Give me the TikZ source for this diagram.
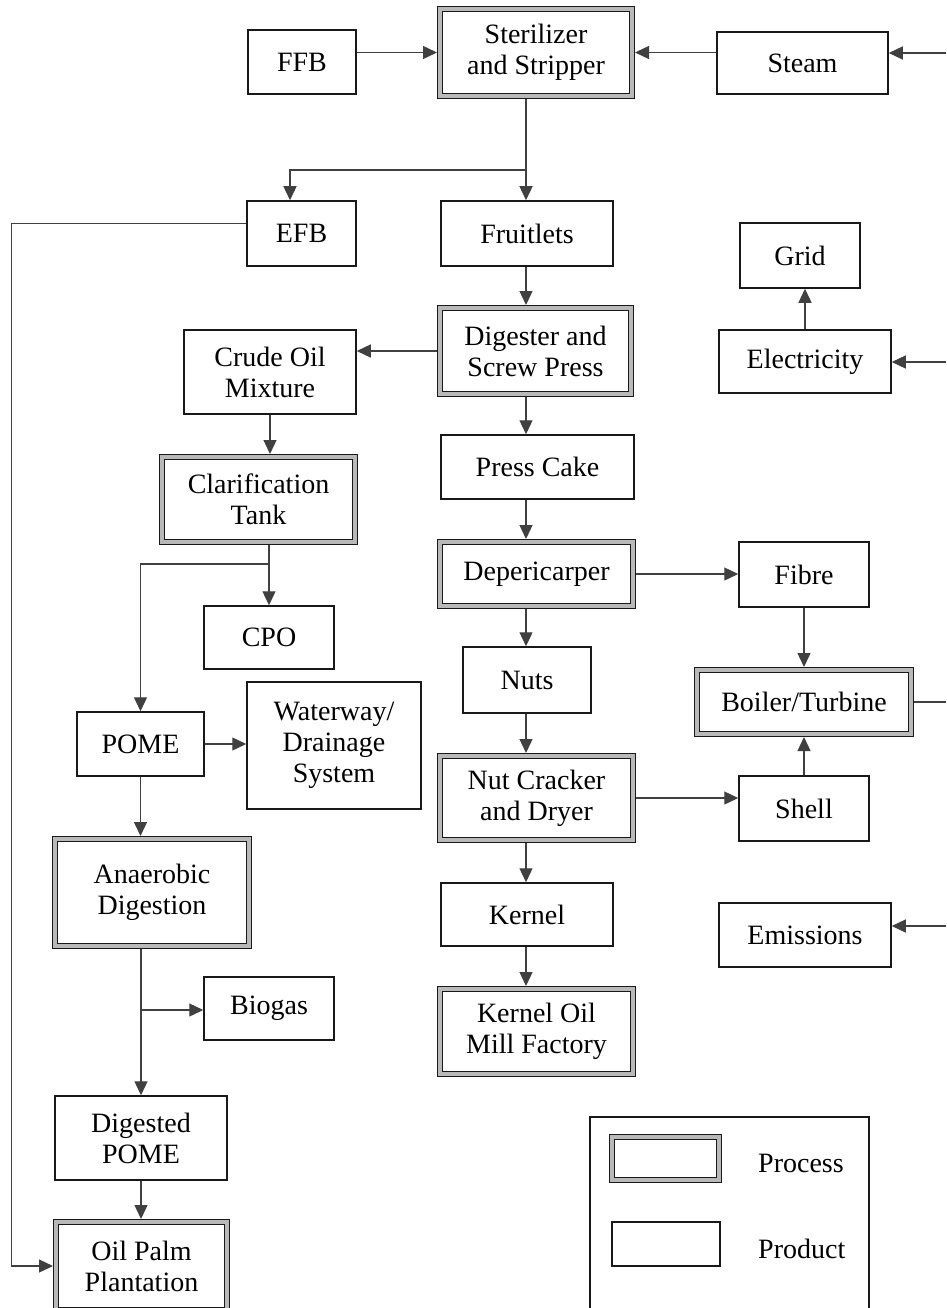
\documentclass[tikz,border=0pt]{standalone}
\usepackage{fontspec}
\setmainfont{Liberation Serif}
\usetikzlibrary{arrows.meta}
\begin{document}
\begin{tikzpicture}[x=1pt,y=-1pt,
  txt/.style={font=\fontsize{28}{31}\selectfont, align=center, inner sep=0pt},
  prod/.style={txt, draw=black!90, line width=1.5pt, rectangle, fill=white},
  proc/.style={txt, draw=black!90, line width=1.4pt, double=gray!55, double distance=3.4pt, fill=white, outer sep=3pt},
  link/.style={draw=black!75, line width=1.3pt},
  arr/.style={link, -{Triangle[length=14pt,width=13pt]}},
]
\clip (0,0) rectangle (946,1308);

% process and product boxes
\node[proc, minimum width=192pt, minimum height=87pt] (ster) at (536,52.5) {Sterilizer\\and Stripper};
\node[prod, minimum width=108pt, minimum height=64pt] (ffb) at (302,62) {FFB};
\node[prod, minimum width=171pt, minimum height=62pt] (steam) at (802.5,63) {Steam};
\node[prod, minimum width=109pt, minimum height=65pt] (efb) at (301.5,233.5) {EFB};
\node[prod, minimum width=172pt, minimum height=65pt] (fruit) at (527,233.5) {Fruitlets};
\node[prod, minimum width=120pt, minimum height=65pt] (grid) at (800,255.5) {Grid};
\node[proc, minimum width=191pt, minimum height=86pt] (dig) at (535.5,351) {Digester and\\Screw Press};
\node[prod, minimum width=172pt, minimum height=63pt] (elec) at (805,361.5) {Electricity};
\node[prod, minimum width=172pt, minimum height=84pt] (crude) at (270,372) {Crude Oil\\Mixture};
\node[prod, minimum width=193pt, minimum height=64pt] (press) at (537.5,467) {Press Cake};
\node[proc, minimum width=193pt, minimum height=85pt] (clar) at (258.5,499.5) {Clarification\\Tank};
\node[proc, minimum width=193pt, minimum height=64pt] (dep) at (536.5,574) {Depericarper};
\node[prod, minimum width=130pt, minimum height=65pt] (fibre) at (804,574.5) {Fibre};
\node[prod, minimum width=130pt, minimum height=63pt] (cpo) at (269,637.5) {CPO};
\node[prod, minimum width=128pt, minimum height=66pt] (nuts) at (527,680) {Nuts};
\node[proc, minimum width=214pt, minimum height=64pt] (boiler) at (804,702) {Boiler/Turbine};
\node[prod, minimum width=127pt, minimum height=64pt] (pome) at (140.5,744) {POME};
\node[prod, minimum width=174pt, minimum height=127pt] (water) at (334,745.5) {Waterway/\\Drainage\\System};
\node[proc, minimum width=193pt, minimum height=84pt] (crack) at (536.5,798) {Nut Cracker\\and Dryer};
\node[prod, minimum width=130pt, minimum height=65pt] (shell) at (804,808.5) {Shell};
\node[proc, minimum width=194pt, minimum height=107pt] (ana) at (152,892.5) {Anaerobic\\Digestion};
\node[prod, minimum width=172pt, minimum height=63pt] (kernel) at (527,914.5) {Kernel};
\node[prod, minimum width=172pt, minimum height=64pt] (emis) at (805,935) {Emissions};
\node[prod, minimum width=130pt, minimum height=63pt] (biogas) at (269,1008.5) {Biogas};
\node[proc, minimum width=193pt, minimum height=85pt] (kom) at (536.5,1031.5) {Kernel Oil\\Mill Factory};
\node[prod, minimum width=172pt, minimum height=84pt] (dpome) at (141,1138) {Digested\\POME};
\node[proc, minimum width=171pt, minimum height=88pt] (palm) at (141.5,1266) {Oil Palm\\Plantation};

% legend
\node[draw=black!90, line width=1.5pt, inner sep=0pt, minimum width=279pt, minimum height=213pt] (legend) at (729.5,1223.5) {};
\node[proc, minimum width=107pt, minimum height=43pt] (keyproc) at (665.5,1158.5) {};
\node[prod, minimum width=108pt, minimum height=44pt] (keyprod) at (666,1244) {};
\node[txt, anchor=west] (keyproctxt) at (758,1163) {Process};
\node[txt, anchor=west] (keyprodtxt) at (758,1249) {Product};

% helper points
\coordinate (mid) at (526,0);
\coordinate (steamin) at (946,53);
\coordinate (elecin) at (946,362);
\coordinate (boilout) at (946,700);
\coordinate (emisin) at (946,926);
\coordinate (sb) at (526,170);
\coordinate (cb) at (269,564);
\coordinate (ab) at (142,1010);

% connectors
\draw[arr] (ffb.east |- ster.west) -- (ster.west);
\draw[arr] (steam.west |- ster.east) -- (ster.east);
\draw[arr] (steamin) -- (steam.east |- steamin);
\draw[arr] (ster.south -| mid) -- (fruit.north -| mid);
\draw[arr] (sb) -| ([xshift=-11.5pt]efb.north);
\draw[arr] ([yshift=10pt]efb.west) -- ++(-235,0) |- (palm.west);
\draw[arr] (fruit.south -| mid) -- (dig.north -| mid);
\draw[arr] (dig.west) -- (crude.east |- dig.west);
\draw[arr] (dig.south -| mid) -- (press.north -| mid);
\draw[arr] (press.south -| mid) -- (dep.north -| mid);
\draw[arr] (dep.east) -- (fibre.west |- dep.east);
\draw[arr] (dep.south -| mid) -- (nuts.north -| mid);
\draw[arr] (nuts.south -| mid) -- (crack.north -| mid);
\draw[arr] (crack.east) -- (shell.west |- crack.east);
\draw[arr] (crack.south -| mid) -- (kernel.north -| mid);
\draw[arr] (kernel.south -| mid) -- (kom.north -| mid);
\draw[arr] (fibre.south) -- (boiler.north -| fibre.south);
\draw[arr] (shell.north) -- (boiler.south -| shell.north);
\draw[link] (boiler.east) -- (boilout |- boiler.east);
\draw[arr] (elecin) -- (elec.east |- elecin);
\draw[arr] (elec.north) -- (grid.south -| elec.north);
\draw[arr] (emisin) -- (emis.east |- emisin);
\draw[arr] (crude.south) -- (clar.north -| crude.south);
\draw[arr] (clar.south -| cpo.north) -- (cpo.north);
\draw[arr] (cb) -| (pome.north);
\draw[arr] (pome.east) -- (water.west |- pome.east);
\draw[arr] (pome.south) -- (ana.north -| pome.south);
\draw[arr] (ana.south -| dpome.north) -- (dpome.north);
\draw[arr] (ab) -- (biogas.west |- ab);
\draw[arr] (dpome.south) -- (palm.north -| dpome.south);
\end{tikzpicture}
\end{document}
